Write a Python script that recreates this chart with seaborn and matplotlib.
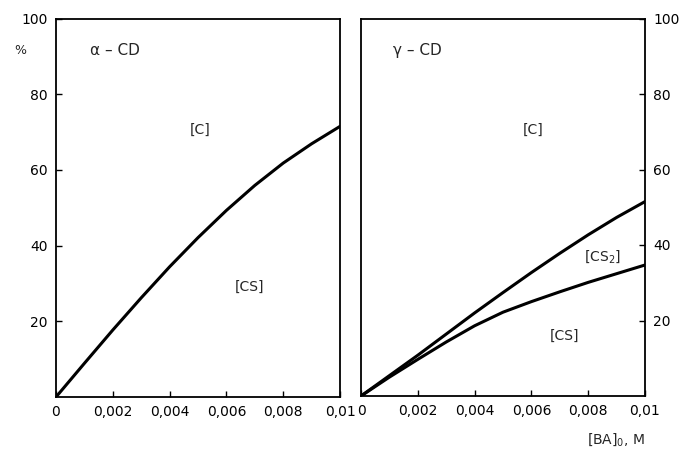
import numpy as np
import pandas as pd
import matplotlib
matplotlib.use("Agg")
import matplotlib.pyplot as plt
import seaborn as sns

sns.set_theme(style="white")
plt.rcParams['font.family'] = ['DejaVu Sans']

# Data
conc = [0, 0.001, 0.002, 0.003, 0.004, 0.005, 0.006, 0.007, 0.008, 0.009, 0.01]
alpha_c = [0, 8.9, 17.7, 26.2, 34.4, 42.1, 49.3, 55.9, 61.8, 66.9, 71.5]
gamma_upper = [0, 5.4, 10.8, 16.4, 22.0, 27.4, 32.7, 37.8, 42.7, 47.3, 51.5]
gamma_lower = [0, 5.0, 9.7, 14.3, 18.6, 22.2, 25.0, 27.6, 30.1, 32.4, 34.7]
xticks = [0, 0.002, 0.004, 0.006, 0.008, 0.01]
xticklabels = ["0", "0,002", "0,004", "0,006", "0,008", "0,01"]
yticks = [20, 40, 60, 80, 100]
yticklabels = ["20", "40", "60", "80", "100"]

df_a = pd.DataFrame({"x": conc, "y": alpha_c})
df_g = pd.DataFrame({
    "x": conc * 2,
    "y": gamma_upper + gamma_lower,
    "curve": ["upper"] * len(conc) + ["lower"] * len(conc),
})

fig = plt.figure(figsize=(6.83, 4.5), dpi=100)
axL = fig.add_axes([56/683, 1-397/450, (340-56)/683, (397-18.5)/450])
axR = fig.add_axes([361/683, 1-396/450, (645-361)/683, (396-18.5)/450])

sns.lineplot(data=df_a, x="x", y="y", ax=axL, color="black", linewidth=2.2)
sns.lineplot(data=df_g, x="x", y="y", units="curve", estimator=None, ax=axR,
             color="black", linewidth=2.2)

fs = 10
for ax in (axL, axR):
    ax.set_xlim(0, 0.01)
    ax.set_ylim(0, 100)
    ax.set_xlabel("")
    ax.set_ylabel("")
    ax.set_xticks(xticks)
    ax.set_xticklabels(xticklabels, fontsize=fs)
    ax.set_yticks(yticks)
    ax.set_yticklabels(yticklabels, fontsize=fs)
    for s in ax.spines.values():
        s.set_color("black")
        s.set_linewidth(1.3)
    ax.tick_params(direction="in", length=4, width=1, colors="black", pad=6)

axL.tick_params(axis="y", left=True, right=False, labelleft=True, labelright=False)
axL.tick_params(axis="x", bottom=True)
axR.yaxis.tick_right()
axR.tick_params(axis="y", right=True, left=False, labelright=True, labelleft=False)
axR.tick_params(axis="x", bottom=True)

axL.text(0.0012, 91.5, "α – CD", fontsize=fs+1, va="center", ha="left")
axL.text(0.00507, 70.5, "[C]", fontsize=fs, va="center", ha="center")
axL.text(0.0068, 29, "[CS]", fontsize=fs, va="center", ha="center")
axR.text(0.00113, 91.5, "γ – CD", fontsize=fs+1, va="center", ha="left")
axR.text(0.00606, 70.5, "[C]", fontsize=fs, va="center", ha="center")
axR.text(0.0085, 37, "[CS$_2$]", fontsize=fs, va="center", ha="center")
axR.text(0.00718, 16, "[CS]", fontsize=fs, va="center", ha="center")

fig.text(20/683, 1-50/450, "%", fontsize=fs-1, ha="center", va="center")
fig.text(645/683, 1-440/450, "[BA]$_0$, M", fontsize=fs, ha="right", va="center")

fig.savefig("out.png", dpi=100)
